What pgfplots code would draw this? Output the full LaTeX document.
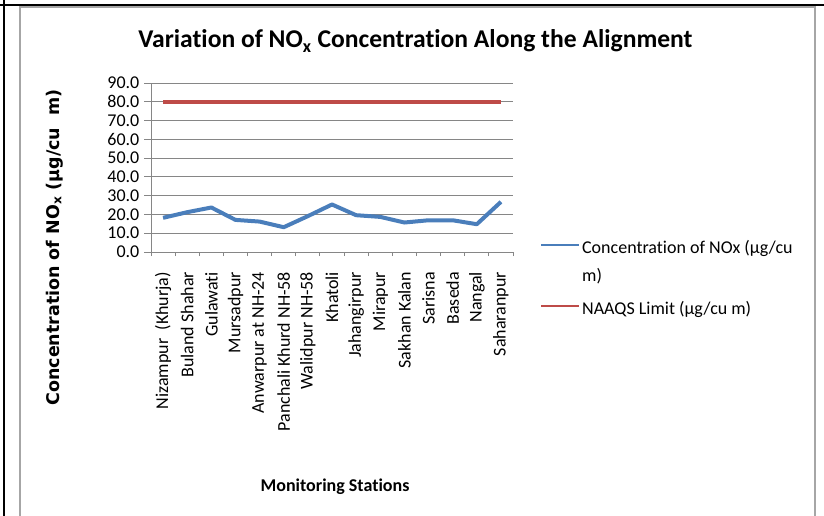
\documentclass[border=0pt]{standalone}
\usepackage{fontspec}
\setmainfont{Carlito}[Ligatures={TeX,NoCommon}]
\newfontfamily\ylfont{DejaVu Sans}
\usepackage{pgfplots}
\pgfplotsset{compat=1.18}
\definecolor{serblue}{RGB}{74,126,187}
\definecolor{serred}{RGB}{190,75,72}
\definecolor{gridgray}{RGB}{134,134,134}
\definecolor{framegray}{RGB}{166,166,166}
\newcommand{\tfont}{\fontsize{13.5}{16}\selectfont}
\begin{document}
\begin{tikzpicture}
\path[use as bounding box] (0pt,0pt) rectangle (618pt,-387pt);
\draw[framegray, line width=1.5pt] (15pt,-392pt) -- (15pt,-5.25pt) -- (611.25pt,-5.25pt) -- (611.25pt,-392pt);
\draw[black, line width=1.5pt] (0pt,-3.75pt) -- (620pt,-3.75pt);
\draw[black, line width=1.5pt] (2.8pt,2pt) -- (2.8pt,-392pt);
\begin{axis}[
  at={(113.25pt,-189pt)}, anchor=south west,
  scale only axis, width=271.5pt, height=126.75pt,
  xmin=0.5, xmax=15.5, ymin=0, ymax=90,
  axis x line*=bottom, axis y line*=left,
  axis line style={draw=gridgray, line width=0.75pt, -},
  xtick={0.5,1.5,...,15.5},
  x tick label as interval,
  xticklabels={Nizampur\ \ (Khurja),Buland Shahar,Gulawati,Mursadpur,Anwarpur at NH-24,Panchali Khurd NH-58,Walidpur NH-58,Khatoli,Jahangirpur,Mirapur,Sakhan Kalan,Sarisna,Baseda,Nangal,Saharanpur},
  xticklabel style={rotate=90, anchor=east, font=\tfont, inner xsep=9.5pt},
  ytick={0,10,...,90},
  yticklabel style={font=\tfont, /pgf/number format/.cd, fixed, fixed zerofill, precision=1},
  /pgf/number format/assume math mode=true,
  ymajorgrids, grid style={draw=gridgray, line width=0.75pt},
  tick align=outside,
  major tick length=5.25pt,
  xtick style={draw=gridgray, line width=0.75pt, /pgfplots/major tick length=3pt},
  ytick style={draw=gridgray, line width=0.75pt},
  legend style={at={(1.0746,0.0671)}, anchor=north west, draw=none, fill=none, inner sep=0pt, outer sep=0pt, font=\fontsize{13.5}{21}\selectfont, row sep=10.75pt, column sep=1.5pt, nodes={inner sep=0pt, outer sep=0pt, text depth=, text height=}, cells={anchor=base west}},
  legend image code/.code={\draw[#1, line width=1.6pt] (0pt,6.5pt) -- (28.5pt,6.5pt);},
  clip=false,
]
\addplot[serblue, line width=3pt, line join=round] coordinates {(1,18.2)(2,21.2)(3,23.7)(4,17.1)(5,16.2)(6,13.2)(7,19.1)(8,25.3)(9,19.6)(10,18.7)(11,15.7)(12,16.9)(13,16.9)(14,14.8)(15,26.7)};
\addlegendentry{\raisebox{0pt}[10pt][25pt]{\vtop{\baselineskip=21pt\hbox{Concentration of NOx (µg/cu}\hbox{m)}}}}
\addplot[serred, line width=3pt] coordinates {(1,80)(2,80)(3,80)(4,80)(5,80)(6,80)(7,80)(8,80)(9,80)(10,80)(11,80)(12,80)(13,80)(14,80)(15,80)};
\addlegendentry{\raisebox{0pt}[10pt][3pt]{NAAQS Limit (µg/cu m)}}
\end{axis}
\node[anchor=base] at (311.6pt,-36pt) {\bfseries\fontsize{19.2}{22}\selectfont Variation of NO\textsubscript{x} Concentration Along the Alignment};
\node[anchor=base] at (251.25pt,-368.25pt) {\bfseries\tfont Monitoring Stations};
\node[rotate=90, anchor=base] at (44.25pt,-185.6pt) {\ylfont\bfseries\fontsize{13.1}{15}\selectfont Concentration of NO\textsubscript{x} (µg/cu\ \ m)};
\end{tikzpicture}
\end{document}
